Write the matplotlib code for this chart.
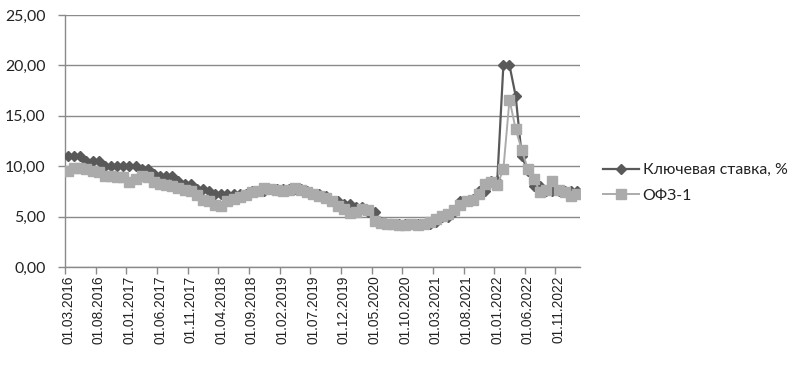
import matplotlib
matplotlib.use("Agg")
import matplotlib.pyplot as plt
from matplotlib.ticker import FixedLocator, FuncFormatter

# Monthly categories 01.03.2016 .. 01.02.2023
years_months = [(2016, m) for m in range(3, 13)] + \
               [(y, m) for y in range(2017, 2023) for m in range(1, 13)] + \
               [(2023, 1), (2023, 2)]
dates = ["01.%02d.%d" % (m, y) for (y, m) in years_months]

key_rate = [
    11, 11, 11, 10.5, 10.5, 10.5, 10, 10, 10, 10,                      # 2016
    10, 10, 9.75, 9.75, 9.25, 9.0, 9.0, 9.0, 8.5, 8.25, 8.25, 7.75,    # 2017
    7.75, 7.5, 7.25, 7.25, 7.25, 7.25, 7.25, 7.25, 7.5, 7.5, 7.5, 7.75,  # 2018
    7.75, 7.75, 7.75, 7.75, 7.75, 7.5, 7.25, 7.25, 7.0, 6.5, 6.5, 6.25,  # 2019
    6.25, 6.0, 6.0, 5.5, 5.5, 4.5, 4.25, 4.25, 4.25, 4.25, 4.25, 4.25,   # 2020
    4.25, 4.25, 4.5, 5.0, 5.0, 5.5, 6.5, 6.5, 6.75, 7.5, 7.5, 8.5,       # 2021
    8.5, 20, 20, 17, 11, 9.5, 8, 8, 7.5, 7.5, 7.5, 7.5,                  # 2022
    7.5, 7.5,                                                            # 2023
]

ofz1 = [
    9.5, 9.8, 9.8, 9.7, 9.5, 9.4, 9.0, 9.0, 8.9, 8.9,                  # 2016
    8.4, 8.7, 9.0, 8.9, 8.4, 8.2, 8.1, 8.0, 7.8, 7.6, 7.5, 7.1,         # 2017
    6.6, 6.5, 6.2, 6.1, 6.5, 6.7, 6.9, 7.1, 7.4, 7.5, 7.8, 7.7,         # 2018
    7.6, 7.5, 7.6, 7.8, 7.6, 7.4, 7.2, 7.0, 6.8, 6.5, 6.1, 5.8,         # 2019
    5.4, 5.5, 5.8, 5.7, 4.6, 4.4, 4.3, 4.3, 4.2, 4.2, 4.3, 4.2,         # 2020
    4.3, 4.5, 4.8, 5.1, 5.3, 5.7, 6.2, 6.5, 6.6, 7.2, 8.2, 8.4,         # 2021
    8.1, 9.7, 16.6, 13.7, 11.6, 9.7, 8.7, 7.4, 7.6, 8.5, 7.6, 7.4,      # 2022
    7.0, 7.2,                                                           # 2023
]

series_names = ["Ключевая ставка, %", "ОФЗ-1"]
y_ticks = [0, 5, 10, 15, 20, 25]

fig = plt.figure(figsize=(7.92, 3.66), dpi=100)
ax = fig.add_axes([65 / 792, 1 - 267 / 366, (580 - 65) / 792, (267 - 15) / 366])

x = list(range(len(dates)))
dark = "#595959"
light = "#ABABAB"
ax.plot(x, key_rate, color=dark, lw=1.6, marker="D", ms=5.2,
        mfc=dark, mec=dark, label=series_names[0], zorder=3)
ax.plot(x, ofz1, color=light, lw=1.4, marker="s", ms=7.2,
        mfc=light, mec=light, label=series_names[1], zorder=4)

ax.set_xlim(-0.5, len(dates) - 0.5)
ax.set_ylim(0, 25)

grid_c = "#8A8A8A"
ax.set_yticks(y_ticks)
ax.yaxis.set_major_formatter(FuncFormatter(lambda v, p: ("%.2f" % v).replace(".", ",")))
ax.grid(axis="y", color=grid_c, lw=1.0)
ax.set_axisbelow(True)

label_idx = list(range(0, len(dates), 5))
ax.xaxis.set_major_locator(FixedLocator(label_idx))
ax.set_xticklabels([dates[i] for i in label_idx], rotation=90)
ax.xaxis.set_minor_locator(FixedLocator([i - 0.5 for i in label_idx]))
ax.tick_params(axis="x", which="major", length=0, pad=6)
ax.tick_params(axis="x", which="minor", length=5, color=grid_c, width=1)
ax.tick_params(axis="y", length=5, color=grid_c, width=1, pad=9)
for lab in ax.get_yticklabels():
    lab.set_fontfamily("Lato")
    lab.set_fontsize(11.4)
    lab.set_color("#222222")
for lab in ax.get_xticklabels():
    lab.set_fontfamily("Liberation Sans")
    lab.set_fontsize(9.9)
    lab.set_color("#222222")

for s in ["top", "right"]:
    ax.spines[s].set_visible(False)
for s in ["left", "bottom"]:
    ax.spines[s].set_color(grid_c)
    ax.spines[s].set_linewidth(1.0)

leg = fig.legend(loc="center left", bbox_to_anchor=(603 / 792, 1 - 183 / 366),
                 frameon=False, borderpad=0, borderaxespad=0,
                 handlelength=2.3, handletextpad=0.2, labelspacing=0.75,
                 prop={"family": "Lato", "size": 11.4})
for t in leg.get_texts():
    t.set_color("#222222")

fig.savefig("out.png", dpi=100)
